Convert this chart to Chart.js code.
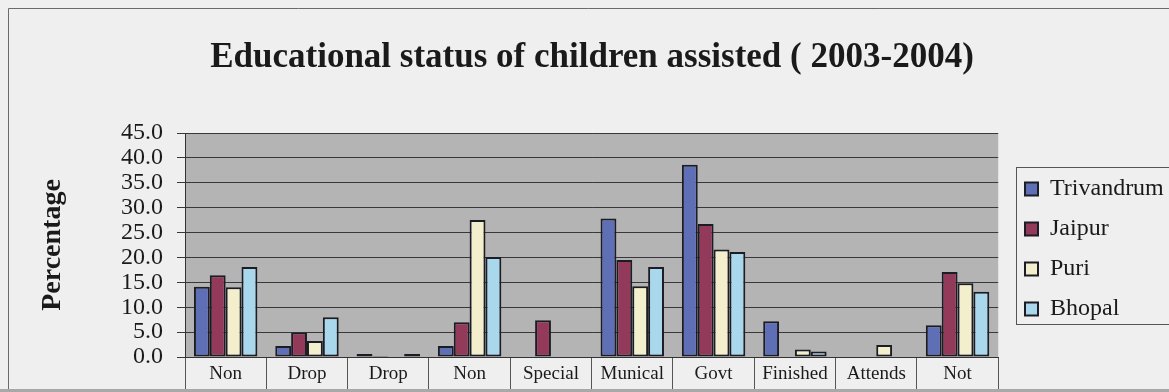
<!DOCTYPE html>
<html>
<head>
<meta charset="utf-8">
<script src="https://cdn.jsdelivr.net/npm/chart.js@4.4.0/dist/chart.umd.min.js"></script>
<style>
    html, body { margin: 0; padding: 0; background: #efefef; }
    #wrap { width: 1169px; height: 392px; }
</style>
</head>
<body>
<div id="wrap"><canvas id="eduChart" width="1169" height="392"></canvas></div>
<script>
// Values (percent of children assisted)
const categories = ['Non', 'Drop', 'Drop', 'Non', 'Special', 'Munical', 'Govt', 'Finished', 'Attends', 'Not'];
const trivandrum = [14.1, 2.2, 0.6, 2.2, 0.1, 27.8, 38.6, 7.2, 0.0, 6.4];
const jaipur     = [16.4, 4.9, 0.2, 7.0, 7.4, 19.5, 26.7, 0.0, 0.0, 17.1];
const puri       = [14.0, 3.2, 0.1, 27.5, 0.0, 14.2, 21.6, 1.5, 2.4, 14.8];
const bhopal     = [18.1, 8.0, 0.6, 20.1, 0.0, 18.1, 21.1, 1.1, 0.0, 13.1];
const yTicks = [0, 5, 10, 15, 20, 25, 30, 35, 40, 45];

const serif = 'Liberation Serif';
Chart.defaults.font.family = serif;
Chart.defaults.color = '#1a1a1a';

// background, plot fill, outer frame and the boxed legend
const framePlugin = {
    id: 'frame',
    afterLayout(chart) {
        // legend box sits a little right of and lower than the default spot
        const lg = chart.legend;
        const dx = 1009 - lg.left;
        lg.left += dx;
        lg.right += dx;
        lg.top += 53;
        lg.bottom += 53;
    },
    beforeDraw(chart) {
        const { ctx, chartArea: a, width, height } = chart;
        ctx.save();
        ctx.fillStyle = '#efefef';
        ctx.fillRect(0, 0, width, height);
        ctx.strokeStyle = '#6a6a6a';
        ctx.lineWidth = 1;
        ctx.beginPath();
        ctx.moveTo(8.5, height);
        ctx.lineTo(8.5, 8.5);
        ctx.lineTo(width, 8.5);
        ctx.stroke();
        ctx.fillStyle = '#a8a8a8';
        ctx.fillRect(0, height - 3, width, 3);
        ctx.fillStyle = '#b4b4b4';
        ctx.fillRect(a.left, a.top, a.right - a.left, a.bottom - a.top);
        ctx.restore();
    },
    afterDraw(chart) {
        const { ctx } = chart;
        const boxes = chart.legend.legendHitBoxes;
        if (!boxes || !boxes.length) return;
        const first = boxes[0];
        const last = boxes[boxes.length - 1];
        const top = first.top + first.height / 2 - 22;
        const bottom = last.top + last.height / 2 + 15;
        ctx.save();
        ctx.strokeStyle = '#555';
        ctx.lineWidth = 1;
        ctx.strokeRect(1016.5, Math.round(top) + 0.5, 200, Math.round(bottom - top));
        ctx.restore();
    }
};

function makeSet(label, data, color) {
    return {
        label: label,
        data: data,
        backgroundColor: color,
        borderColor: '#1c1c24',
        borderWidth: 2,
        borderSkipped: false,
        categoryPercentage: 0.78,
        barPercentage: 1.0
    };
}

new Chart(document.getElementById('eduChart'), {
    type: 'bar',
    data: {
        labels: categories,
        datasets: [
            makeSet('Trivandrum', trivandrum, '#5f6fb6'),
            makeSet('Jaipur', jaipur, '#933a5a'),
            makeSet('Puri', puri, '#f3efcc'),
            makeSet('Bhopal', bhopal, '#a9d7ec')
        ]
    },
    options: {
        responsive: false,
        animation: false,
        devicePixelRatio: 1,
        layout: { padding: { left: 21, right: 6, top: 0, bottom: 0 } },
        plugins: {
            title: {
                display: true,
                text: 'Educational status of children assisted ( 2003-2004)',
                color: '#1a1a1a',
                font: { family: serif, size: 35, weight: 'bold' },
                padding: { top: 37, bottom: 54 }
            },
            legend: {
                display: true,
                position: 'right',
                align: 'center',
                labels: {
                    color: '#1a1a1a',
                    font: { family: serif, size: 24 },
                    boxWidth: 13,
                    boxHeight: 13,
                    padding: 16
                }
            },
            tooltip: { enabled: false }
        },
        scales: {
            x: {
                offset: true,
                grid: {
                    offset: true,
                    drawOnChartArea: false,
                    drawTicks: true,
                    tickLength: 32,
                    color: '#555'
                },
                border: { color: '#333', width: 1 },
                ticks: {
                    color: '#1a1a1a',
                    font: { family: serif, size: 19 },
                    padding: -26,
                    maxRotation: 0,
                    autoSkip: false
                },
                afterFit(scale) { scale.height = 35; }
            },
            y: {
                min: 0,
                max: 45,
                afterBuildTicks(scale) {
                    scale.ticks = yTicks.map(v => ({ value: v }));
                },
                grid: {
                    color: '#383838',
                    lineWidth: 1,
                    tickLength: 8
                },
                border: { color: '#333', width: 1 },
                ticks: {
                    color: '#1a1a1a',
                    font: { family: serif, size: 24, lineHeight: 1 },
                    padding: 14,
                    autoSkip: false,
                    callback: v => v.toFixed(1)
                },
                title: {
                    display: true,
                    text: 'Percentage',
                    color: '#1a1a1a',
                    font: { family: serif, size: 28, weight: 'bold' },
                    padding: { top: 15, bottom: 0 }
                },
                afterFit(scale) { scale.width = 164; }
            }
        }
    },
    plugins: [framePlugin]
});
</script>
</body>
</html>
